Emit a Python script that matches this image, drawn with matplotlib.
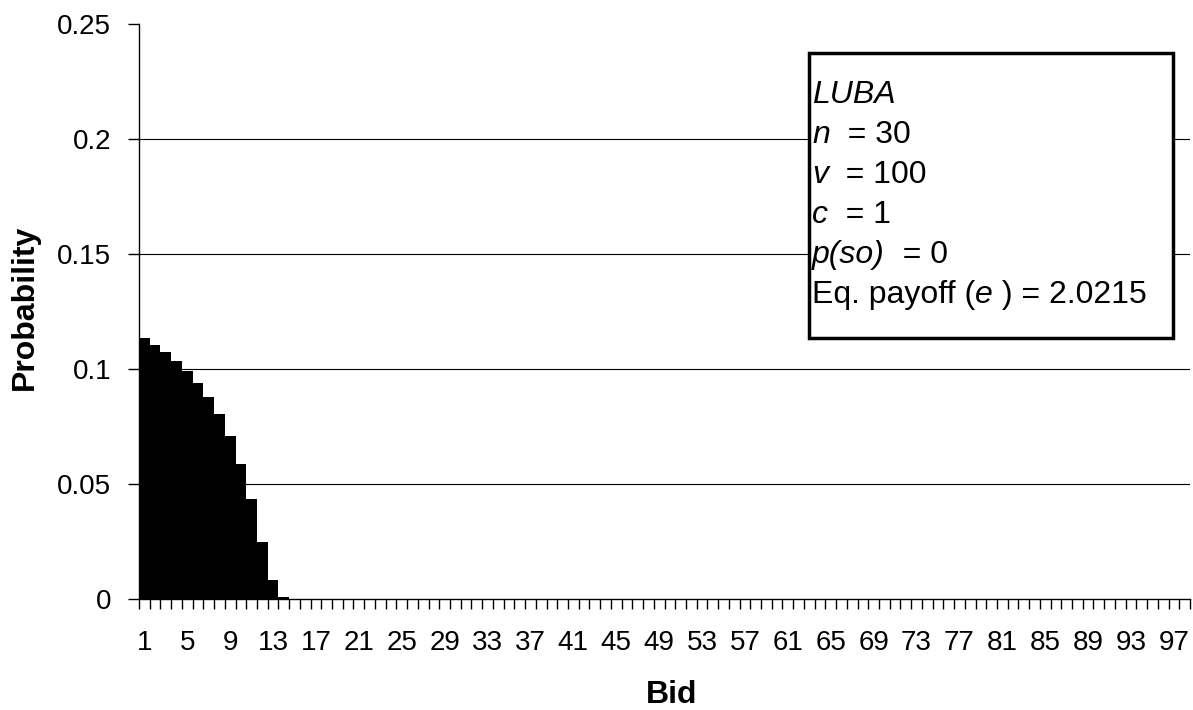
import matplotlib.pyplot as plt
import numpy as np

plt.rcParams['font.family'] = ['Liberation Sans', 'DejaVu Sans']

# bid 1..98, probability of each bid
bids = np.arange(1, 99)
probs = [0.1135, 0.1106, 0.1073, 0.1036, 0.0991, 0.0939, 0.0879, 0.0806,
         0.0708, 0.0587, 0.0433, 0.0249, 0.0082, 0.0007]
probs = probs + [0.0] * (len(bids) - len(probs))

# text box lines: (piece, italic)
info = [[('LUBA', True)],
        [('n', True), ('  = 30', False)],
        [('v', True), ('  = 100', False)],
        [('c', True), ('  = 1', False)],
        [('p(so)', True), ('  = 0', False)],
        [('Eq. payoff (', False), ('e', True), (' ) = 2.0215', False)]]

W, H = 1193, 710
fig = plt.figure(figsize=(W / 100, H / 100), dpi=100)
ax = fig.add_axes([139 / W, 1 - 599 / H, 1051 / W, 575 / H])

ax.bar(bids, probs, width=1.0, color='black', zorder=3)

ax.set_xlim(0.5, 98.5)
ax.set_ylim(0, 0.25)
ax.set_yticks([0, 0.05, 0.1, 0.15, 0.2, 0.25])
ax.set_yticklabels(['0', '0.05', '0.1', '0.15', '0.2', '0.25'])
for yv in [0.05, 0.1, 0.15, 0.2]:
    ax.axhline(yv, color='black', lw=0.8, zorder=1)

ax.set_xticks(bids[::4])
ax.set_xticklabels([str(b) for b in bids[::4]])
ax.set_xticks(np.arange(0.5, 99, 1), minor=True)
ax.tick_params(axis='x', which='major', length=0, pad=22, labelsize=20)
ax.tick_params(axis='x', which='minor', length=7, width=1, direction='out')
ax.tick_params(axis='y', length=8, width=1, labelsize=20, pad=12)

for s in ['top', 'right']:
    ax.spines[s].set_visible(False)
ax.spines['left'].set_linewidth(1)
ax.spines['bottom'].set_linewidth(1)

ax.set_xlabel('Bid', fontsize=23, fontweight='bold', va='center')
ax.set_ylabel('Probability', fontsize=23, fontweight='bold', va='center')
ax.xaxis.set_label_coords(0.507, -0.167)
ax.yaxis.set_label_coords(-0.109, 0.507)

# info box
fig.patches.append(plt.Rectangle((809 / W, 1 - 338 / H), 364 / W, 285 / H,
                                 transform=fig.transFigure, facecolor='white',
                                 edgecolor='black', lw=2.5, zorder=5))
r = fig.canvas.get_renderer()
for i, line in enumerate(info):
    x = 812
    y = 1 - (95 + 40 * i) / H
    for txt, it in line:
        t = fig.text(x / W, y, txt, fontsize=23, va='center', ha='left',
                     style='italic' if it else 'normal', zorder=6)
        x = t.get_window_extent(r).x1

fig.savefig('out.png', dpi=100)
